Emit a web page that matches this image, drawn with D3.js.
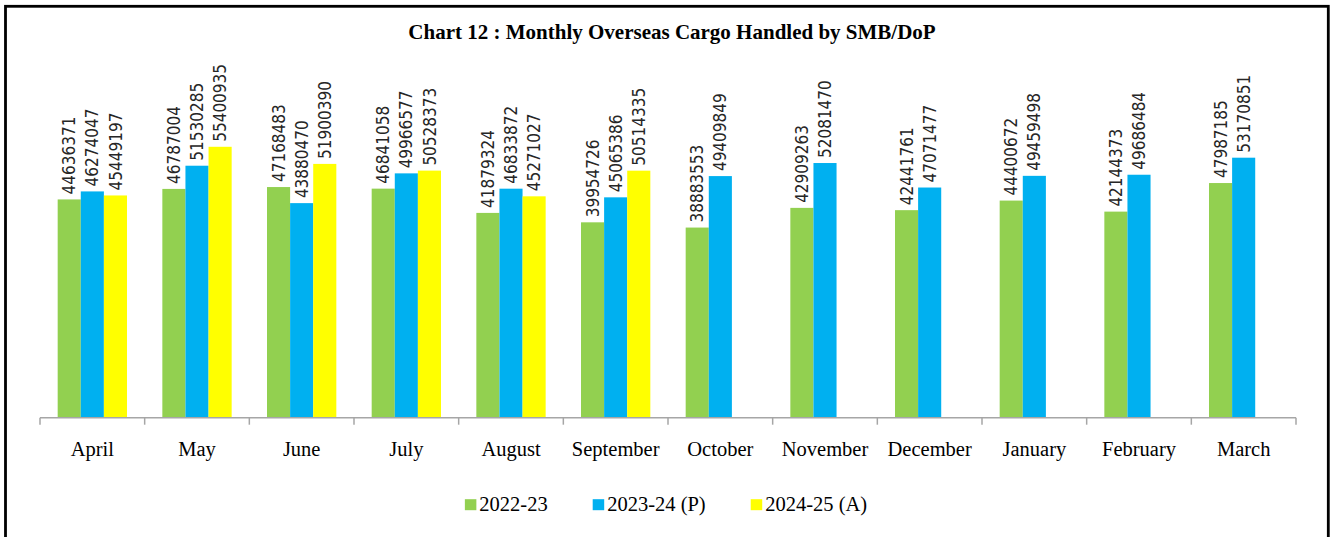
<!DOCTYPE html>
<html>
<head>
<meta charset="utf-8">
<script src="https://cdn.jsdelivr.net/npm/d3@7"></script>
<style>
  html, body { margin: 0; padding: 0; background: #fff; }
  svg { display: block; }
</style>
</head>
<body>
<svg id="chart" width="1333" height="537"></svg>
<script>
const months = ["April","May","June","July","August","September","October","November","December","January","February","March"];
const seriesNames = ["2022-23","2023-24 (P)","2024-25 (A)"];
const values2022 = [44636371,46787004,47168483,46841058,41879324,39954726,38883553,42909263,42441761,44400672,42144373,47987185];
const values2023 = [46274047,51530285,43880470,49966577,46833872,45065386,49409849,52081470,47071477,49459498,49686484,53170851];
const values2024 = [45449197,55400935,51900390,50528373,45271027,50514335,null,null,null,null,null,null];
const colors = ["#92D050","#00B0F0","#FFFF00"];
const titleText = "Chart 12 : Monthly Overseas Cargo Handled by SMB/DoP";

const allSeries = [values2022, values2023, values2024];
const rows = months.map((m, i) => ({
  month: m,
  vals: seriesNames.map((s, j) => ({ series: s, idx: j, value: allSeries[j][i] }))
}));

const svg = d3.select("#chart");
const W = 1333, H = 537;

// frame
svg.append("rect")
  .attr("x", 5.5).attr("y", 6.3)
  .attr("width", 1322.8).attr("height", 545)
  .attr("fill", "none").attr("stroke", "#000").attr("stroke-width", 2.8);

// title
svg.append("text")
  .attr("x", 672).attr("y", 39)
  .attr("text-anchor", "middle")
  .attr("font-family", "'Liberation Serif', 'Times New Roman', serif")
  .attr("font-weight", "bold")
  .attr("font-size", 21)
  .attr("fill", "#000")
  .text(titleText);

const baseY = 417.7;
const x0 = d3.scaleBand().domain(months).range([40, 1296]).padding(0);
const x1 = d3.scaleBand().domain(seriesNames).range([0, x0.bandwidth()]).paddingInner(0).paddingOuter(0.765);
const y = d3.scaleLinear().domain([0, 60000000]).range([baseY, baseY - 293.4]);

// bars
const groups = svg.append("g").selectAll("g")
  .data(rows).join("g")
  .attr("transform", d => `translate(${x0(d.month)},0)`);

groups.selectAll("rect")
  .data(d => d.vals.filter(v => v.value != null))
  .join("rect")
  .attr("x", d => x1(d.series))
  .attr("y", d => y(d.value))
  .attr("width", x1.bandwidth())
  .attr("height", d => baseY - y(d.value))
  .attr("fill", d => colors[d.idx]);

// data labels
groups.selectAll("text.lbl")
  .data(d => d.vals.filter(v => v.value != null))
  .join("text")
  .attr("class", "lbl")
  .attr("transform", d => `translate(${x1(d.series) + x1.bandwidth() / 2},${y(d.value) - 5}) rotate(-90)`)
  .attr("dy", "0.36em")
  .attr("text-anchor", "start")
  .attr("font-family", "'DejaVu Sans Condensed', 'DejaVu Sans', sans-serif")
  .style("font-stretch", "condensed")
  .attr("font-size", 17)
  .attr("fill", "#262626")
  .text(d => String(d.value));

// axis line and boundary ticks
const axisG = svg.append("g");
axisG.append("line")
  .attr("x1", x0.range()[0]).attr("x2", x0.range()[1])
  .attr("y1", baseY).attr("y2", baseY)
  .attr("stroke", "#A6A6A6").attr("stroke-width", 1.5);
const boundaries = months.map(m => x0(m)).concat([x0.range()[1]]);
axisG.selectAll("line.tk")
  .data(boundaries).join("line")
  .attr("class", "tk")
  .attr("x1", d => d).attr("x2", d => d)
  .attr("y1", baseY).attr("y2", baseY + 7)
  .attr("stroke", "#A6A6A6").attr("stroke-width", 1.5);

// category labels
const xAxis = svg.append("g")
  .attr("transform", `translate(0,${baseY})`)
  .call(d3.axisBottom(x0).tickSize(0).tickPadding(23.7));
xAxis.select(".domain").remove();
xAxis.selectAll("text")
  .attr("font-family", "'Liberation Serif', 'Times New Roman', serif")
  .attr("font-size", 20.5)
  .attr("fill", "#000");

// legend
const legend = svg.append("g");
const items = legend.selectAll("g").data(seriesNames).join("g");
items.append("rect")
  .attr("x", 0).attr("y", -11.5)
  .attr("width", 11.5).attr("height", 11)
  .attr("fill", (d, i) => colors[i]);
items.append("text")
  .attr("x", 14.5).attr("y", 0)
  .attr("font-family", "'Liberation Serif', 'Times New Roman', serif")
  .attr("font-size", 20.5)
  .attr("fill", "#000")
  .text(d => d);
let cx = 0;
items.each(function () {
  const g = d3.select(this);
  g.attr("transform", `translate(${cx},0)`);
  const tw = g.select("text").node().getComputedTextLength();
  cx += 14.5 + tw + 45;
});
const totalW = cx - 45;
legend.attr("transform", `translate(${666 - totalW / 2},510.7)`);
</script>
</body>
</html>
